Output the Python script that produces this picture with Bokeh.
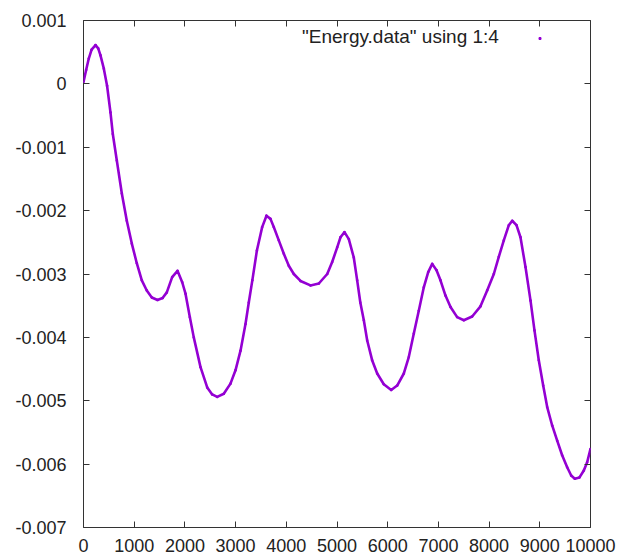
from bokeh.plotting import figure
from bokeh.models import (Range1d, LinearAxis, FixedTicker, CustomJSTickFormatter,
                          Legend, LegendItem)
from bokeh.core.properties import value
from bokeh.embed import file_html
from bokeh.resources import INLINE

# ---- data ----
step = [0, 52, 104, 160, 237, 290, 335, 401, 465, 532, 578, 657, 756, 854, 953,
        1051, 1150, 1248, 1347, 1460, 1560, 1643, 1749, 1854, 1947, 2012, 2097,
        2175, 2308, 2440, 2538, 2637, 2767, 2899, 2998, 3097, 3195, 3260, 3330,
        3420, 3524, 3609, 3688, 3753, 3852, 3951, 4049, 4148, 4280, 4477, 4642,
        4807, 4905, 5004, 5069, 5148, 5233, 5331, 5398, 5460, 5529, 5596, 5693,
        5793, 5923, 6069, 6187, 6318, 6416, 6515, 6613, 6712, 6799, 6878, 6963,
        7041, 7140, 7239, 7370, 7501, 7666, 7830, 7962, 8093, 8191, 8290, 8389,
        8456, 8540, 8619, 8718, 8817, 8895, 8980, 9067, 9146, 9244, 9343, 9441,
        9540, 9619, 9690, 9783, 9868, 9934, 10000]
energy = [0.00003, 0.00022, 0.0004, 0.00054, 0.000612, 0.00056, 0.00045, 0.00024,
          -0.00003, -0.00045, -0.00079, -0.00121, -0.00173, -0.00216, -0.00252,
          -0.00283, -0.0031, -0.00326, -0.00337, -0.00341, -0.00338, -0.00329,
          -0.00305, -0.00295, -0.00313, -0.00331, -0.00368, -0.004, -0.00447,
          -0.00479, -0.0049, -0.00494, -0.00489, -0.00473, -0.00452, -0.00421,
          -0.00379, -0.00345, -0.0031, -0.00263, -0.00226, -0.00208, -0.00213,
          -0.00226, -0.00247, -0.00268, -0.00287, -0.003, -0.00311, -0.00318,
          -0.00315, -0.003, -0.00281, -0.00258, -0.00242, -0.00234, -0.00245,
          -0.00274, -0.0031, -0.00345, -0.00373, -0.00405, -0.00436, -0.00457,
          -0.00474, -0.00483, -0.00476, -0.00457, -0.00431, -0.00394, -0.00358,
          -0.00321, -0.00297, -0.00284, -0.00294, -0.0031, -0.00334, -0.00352,
          -0.00368, -0.00373, -0.00367, -0.00351, -0.00326, -0.003, -0.00273,
          -0.00247, -0.00223, -0.00216, -0.00223, -0.00242, -0.00289, -0.00342,
          -0.00389, -0.00436, -0.00476, -0.0051, -0.00539, -0.00563, -0.00586,
          -0.00605, -0.00618, -0.00623, -0.00621, -0.0061, -0.00597, -0.00576]

x_ticks = [0, 1000, 2000, 3000, 4000, 5000, 6000, 7000, 8000, 9000, 10000]
y_ticks = [-0.007, -0.006, -0.005, -0.004, -0.003, -0.002, -0.001, 0, 0.001]
y_tick_labels = ["-0.007", "-0.006", "-0.005", "-0.004", "-0.003", "-0.002",
                 "-0.001", "0", "0.001"]
legend_label = '"Energy.data" using 1:4'

COLOR = "#9400D3"
FONT = "Liberation Sans"
FS = "18px"

p = figure(width=619, height=558, x_range=Range1d(0, 10000),
           y_range=Range1d(-0.007, 0.001), output_backend="svg",
           toolbar_location=None, min_border_left=83, min_border_right=29,
           min_border_top=20, min_border_bottom=31)
p.background_fill_color = "white"
p.border_fill_color = "white"
p.outline_line_color = "#333333"
p.outline_line_width = 1
p.xgrid.visible = False
p.ygrid.visible = False

line = p.line(step, energy, line_color=COLOR, line_width=2.6, line_join="round")
dots = p.scatter(step, energy, marker="square", size=1.5, color=COLOR)

def style(ax):
    ax.axis_line_color = None
    ax.major_tick_in = 6
    ax.major_tick_out = 0
    ax.minor_tick_in = 0
    ax.minor_tick_out = 0
    ax.major_tick_line_color = "#333333"
    ax.major_label_text_font = FONT
    ax.major_label_text_font_size = FS
    ax.major_label_text_color = "#222222"

xa = p.xaxis[0]
xa.ticker = FixedTicker(ticks=x_ticks)
style(xa)
xa.major_label_standoff = 11

ya = p.yaxis[0]
ya.ticker = FixedTicker(ticks=y_ticks)
ya.major_label_overrides = dict(zip(y_ticks, y_tick_labels))
style(ya)
ya.major_label_standoff = 17

blank = "return ''"
top = LinearAxis(ticker=FixedTicker(ticks=x_ticks),
                 formatter=CustomJSTickFormatter(code=blank))
style(top)
top.major_label_standoff = 0
top.major_label_text_font_size = "0px"
p.add_layout(top, "above")

right = LinearAxis(ticker=FixedTicker(ticks=y_ticks),
                   formatter=CustomJSTickFormatter(code=blank))
style(right)
right.major_label_standoff = 0
right.major_label_text_font_size = "0px"
p.add_layout(right, "right")

# legend text (gnuplot style: text first, sample mark to its right)
leg_text = Legend(items=[LegendItem(label=value(legend_label), renderers=[line])],
                  location=(219, 479), padding=0, margin=0, glyph_width=0,
                  glyph_height=20, label_standoff=0,
                  label_text_font=FONT, label_text_font_size="19px",
                  label_text_color="#222222", background_fill_alpha=0,
                  border_line_color=None)
p.add_layout(leg_text)

leg_mark = Legend(items=[LegendItem(label=value(""), renderers=[dots])],
                  location=(454, 479), padding=0, margin=0, glyph_width=5,
                  glyph_height=20, label_standoff=0,
                  label_text_font=FONT, label_text_font_size=FS,
                  background_fill_alpha=0, border_line_color=None)
p.add_layout(leg_mark)

open("out.html", "w").write(file_html(p, INLINE))
